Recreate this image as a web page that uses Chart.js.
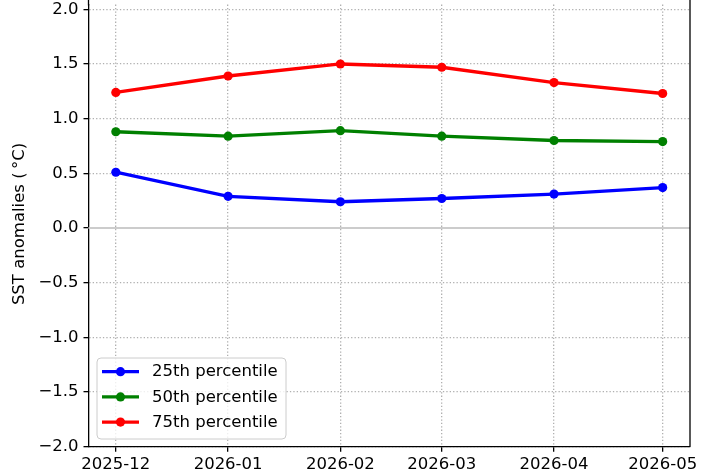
<!DOCTYPE html>
<html>
<head>
<meta charset="utf-8">
<script src="https://cdn.jsdelivr.net/npm/chart.js@4"></script>
<style>
html,body{margin:0;padding:0;background:#fff;}
#wrap{width:710px;height:473px;}
canvas{display:block;}
</style>
</head>
<body>
<div id="wrap"><canvas id="c" width="710" height="473"></canvas></div>
<script>
const categories = ['2025-12','2026-01','2026-02','2026-03','2026-04','2026-05'];
const p25 = [0.51, 0.29, 0.24, 0.27, 0.31, 0.37];
const p50 = [0.88, 0.84, 0.89, 0.84, 0.80, 0.79];
const p75 = [1.24, 1.39, 1.50, 1.47, 1.33, 1.23];
const seriesLabels = ['25th percentile','50th percentile','75th percentile'];
const seriesColors = ['#0000ff','#008000','#ff0000'];
const yTicks = [-2.0,-1.5,-1.0,-0.5,0.0,0.5,1.0,1.5,2.0];
const yTitle = 'SST anomalies (\u2009°C)';

const FONT = 'DejaVu Sans';
const FS = 16.5;

function dayOffset(cat){
  const [y,m] = cat.split('-').map(Number);
  const [y0,m0] = categories[0].split('-').map(Number);
  return (Date.UTC(y,m-1,1) - Date.UTC(y0,m0-1,1)) / 86400000;
}
const xVals = categories.map(dayOffset);
const span = xVals[xVals.length-1] - xVals[0];
const xMin = xVals[0] - 0.05*span;
const xMax = xVals[xVals.length-1] + 0.05*span;

function pts(arr){ return arr.map((v,i)=>({x:xVals[i], y:v})); }
const allSeries = [p25,p50,p75];

const datasets = allSeries.map((arr,i)=>({
  label: seriesLabels[i],
  data: pts(arr),
  borderColor: seriesColors[i],
  backgroundColor: seriesColors[i],
  borderWidth: 3.3,
  pointRadius: 4.6,
  pointHoverRadius: 4.6,
  pointBorderWidth: 0,
  pointBackgroundColor: seriesColors[i],
  tension: 0,
  fill: false
}));

const extras = {
  id: 'extras',
  beforeDatasetsDraw(chart){
    const {ctx, chartArea:a, scales:{y}} = chart;
    const y0 = y.getPixelForValue(0);
    ctx.save();
    ctx.strokeStyle = '#cccccc';
    ctx.lineWidth = 2;
    ctx.beginPath();
    ctx.moveTo(a.left, y0);
    ctx.lineTo(a.right, y0);
    ctx.stroke();
    ctx.restore();
  },
  afterDraw(chart){
    const {ctx, chartArea:a} = chart;
    ctx.save();
    // spines continue to the top edge
    ctx.strokeStyle = '#000';
    ctx.lineWidth = 1.3;
    ctx.beginPath();
    ctx.moveTo(a.right, 0);
    ctx.lineTo(a.right, a.bottom);
    ctx.moveTo(a.left, 0);
    ctx.lineTo(a.left, a.top + 1);
    ctx.stroke();
    ctx.save();
    ctx.translate(20, 224);
    ctx.rotate(-Math.PI/2);
    ctx.fillStyle = '#000';
    ctx.font = FS + 'px "' + FONT + '"';
    ctx.textAlign = 'center';
    ctx.textBaseline = 'middle';
    ctx.fillText(yTitle, 0, 0);
    ctx.restore();
    const bx = a.left + 8.5, bw = 189, bh = 81;
    const by = a.bottom - 7.7 - bh;
    const r = 4;
    ctx.beginPath();
    ctx.moveTo(bx + r, by);
    ctx.lineTo(bx + bw - r, by);
    ctx.quadraticCurveTo(bx + bw, by, bx + bw, by + r);
    ctx.lineTo(bx + bw, by + bh - r);
    ctx.quadraticCurveTo(bx + bw, by + bh, bx + bw - r, by + bh);
    ctx.lineTo(bx + r, by + bh);
    ctx.quadraticCurveTo(bx, by + bh, bx, by + bh - r);
    ctx.lineTo(bx, by + r);
    ctx.quadraticCurveTo(bx, by, bx + r, by);
    ctx.closePath();
    ctx.fillStyle = 'rgba(255,255,255,0.8)';
    ctx.fill();
    ctx.strokeStyle = '#cccccc';
    ctx.lineWidth = 1;
    ctx.stroke();
    ctx.font = FS + 'px "' + FONT + '"';
    ctx.textBaseline = 'middle';
    ctx.textAlign = 'left';
    chart.data.datasets.forEach((ds, i) => {
      const ry = by + 13.7 + i * 25.2;
      ctx.strokeStyle = ds.borderColor;
      ctx.lineWidth = 3.3;
      ctx.beginPath();
      ctx.moveTo(bx + 5, ry);
      ctx.lineTo(bx + 42, ry);
      ctx.stroke();
      ctx.fillStyle = ds.borderColor;
      ctx.beginPath();
      ctx.arc(bx + 23.5, ry, 4.6, 0, Math.PI * 2);
      ctx.fill();
      ctx.fillStyle = '#000';
      ctx.fillText(ds.label, bx + 55, ry + 0.5);
    });
    ctx.restore();
  }
};

new Chart(document.getElementById('c'), {
  type: 'line',
  data: { datasets },
  options: {
    responsive: false,
    animation: false,
    devicePixelRatio: 1,
    layout: { padding: { left: 0, right: 20, top: 0, bottom: 0 } },
    plugins: { legend: { display: false }, tooltip: { enabled: false } },
    scales: {
      x: {
        type: 'linear',
        min: xMin,
        max: xMax,
        afterBuildTicks(scale){ scale.ticks = xVals.map(v => ({value: v})); },
        afterFit(scale){ scale.height = 26.3; scale.paddingLeft = 0; scale.paddingRight = 0; },
        ticks: {
          callback: (v) => { const i = xVals.indexOf(v); return i >= 0 ? categories[i] : ''; },
          font: { family: FONT, size: FS },
          color: '#000',
          padding: 3,
          maxRotation: 0,
          autoSkip: false
        },
        grid: { color: '#b0b0b0', lineWidth: 1.3, tickLength: 5, tickColor: '#000', tickWidth: 1.3 },
        border: { display: true, color: '#000', width: 1.3, dash: [1.3, 2.1] }
      },
      y: {
        type: 'linear',
        min: yTicks[0],
        max: 2.043,
        afterBuildTicks(scale){ scale.ticks = yTicks.map(v => ({value: v})); },
        afterFit(scale){ scale.width = 88.5; scale.paddingTop = 0; scale.paddingBottom = 0; },
        ticks: {
          callback: (v) => v.toFixed(1).replace('-', '\u2212'),
          font: { family: FONT, size: FS },
          color: '#000',
          padding: 5
        },
        grid: { color: '#b0b0b0', lineWidth: 1.3, tickLength: 5, tickColor: '#000', tickWidth: 1.3 },
        border: { display: true, color: '#000', width: 1.3, dash: [1.3, 2.1] }
      }
    }
  },
  plugins: [extras]
});
</script>
</body>
</html>
